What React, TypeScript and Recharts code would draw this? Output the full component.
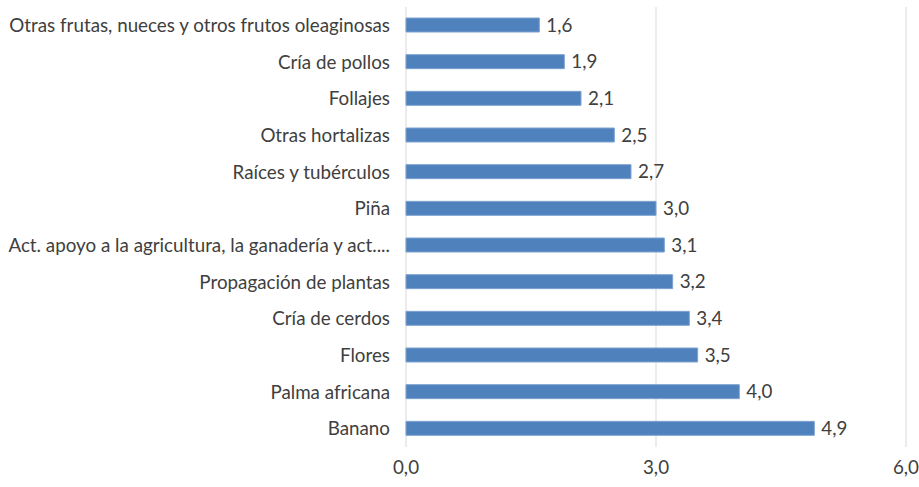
import { BarChart, Bar, XAxis, YAxis, CartesianGrid, LabelList } from "recharts";

const categories = [
  "Otras frutas, nueces y otros frutos oleaginosas",
  "Cría de pollos",
  "Follajes",
  "Otras hortalizas",
  "Raíces y tubérculos",
  "Piña",
  "Act. apoyo a la agricultura, la ganadería y act....",
  "Propagación de plantas",
  "Cría de cerdos",
  "Flores",
  "Palma africana",
  "Banano",
];

const values = [1.6, 1.9, 2.1, 2.5, 2.7, 3.0, 3.1, 3.2, 3.4, 3.5, 4.0, 4.9];

const xTicks = [0, 3, 6];

const data = categories.map((name, i) => ({ name, value: values[i] }));

const fmt = (v: number) => v.toFixed(1).replace(".", ",");

const font = "Lato, sans-serif";
const size = 18.8;

export default function App() {
  return (
    <div style={{ position: "absolute", left: 0, top: 0, width: 919, height: 487, background: "#fff" }}>
      <BarChart
        width={919}
        height={487}
        data={data}
        layout="vertical"
        margin={{ top: 7, right: 13, bottom: 0, left: 0 }}
        barSize={14}
      >
        <CartesianGrid horizontal={false} stroke="#D9D9D9" />
        <XAxis
          type="number"
          domain={[0, 6]}
          ticks={xTicks}
          tickFormatter={fmt}
          axisLine={false}
          tickLine={false}
          height={40}
          tickMargin={8}
          tick={{ fill: "#404040", fontSize: size, fontFamily: font }}
        />
        <YAxis
          type="category"
          dataKey="name"
          width={406}
          axisLine={false}
          tickLine={false}
          tickSize={0}
          tickMargin={16}
          interval={0}
          tick={{ fill: "#404040", fontSize: size, fontFamily: font }}
        />
        <Bar dataKey="value" fill="#4F81BD" stroke="#7EA3D0" strokeWidth={1} isAnimationActive={false}>
          <LabelList
            dataKey="value"
            position="right"
            offset={7}
            formatter={(v: number) => fmt(v)}
            style={{ fill: "#404040", fontSize: size, fontFamily: font }}
          />
        </Bar>
      </BarChart>
    </div>
  );
}
